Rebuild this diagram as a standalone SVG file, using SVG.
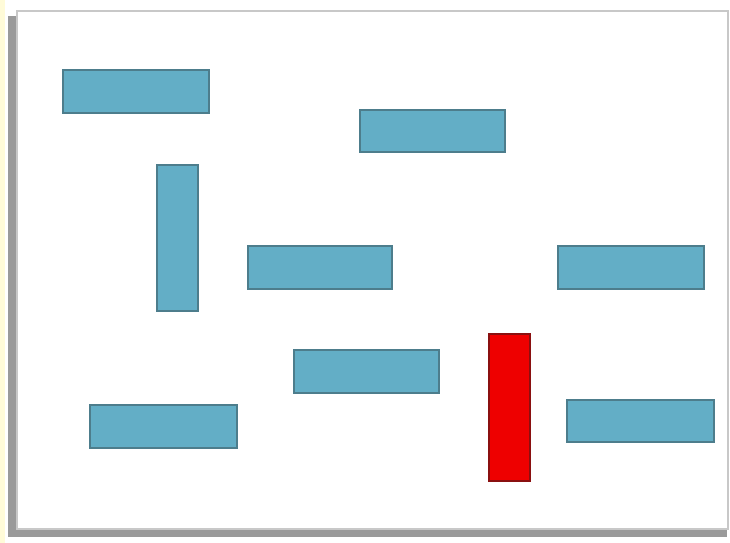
<svg xmlns="http://www.w3.org/2000/svg" width="730" height="543" viewBox="0 0 730 543">
<style>
.blk{fill:#63aec6;stroke:#4d7d8c;stroke-width:2}
.red{fill:#ee0000;stroke:#8a1010;stroke-width:2}
</style>
<rect x="0" y="0" width="730" height="543" fill="#ffffff"/>
<rect x="0" y="0" width="5" height="543" fill="#fffbd8"/>
<rect id="shadow" x="8" y="16" width="719" height="521" fill="#9a9a9a"/>
<rect id="panel" x="17" y="11" width="711" height="518" fill="#ffffff" stroke="#c8c8c8" stroke-width="2"/>
<g id="n1"><rect class="blk" x="63" y="70" width="146" height="43"/></g>
<g id="n2"><rect class="blk" x="360" y="110" width="145" height="42"/></g>
<g id="n3"><rect class="blk" x="157" y="165" width="41" height="146"/></g>
<g id="n4"><rect class="blk" x="248" y="246" width="144" height="43"/></g>
<g id="n5"><rect class="blk" x="558" y="246" width="146" height="43"/></g>
<g id="n6"><rect class="blk" x="294" y="350" width="145" height="43"/></g>
<g id="n7"><rect class="red" x="489" y="334" width="41" height="147"/></g>
<g id="n8"><rect class="blk" x="90" y="405" width="147" height="43"/></g>
<g id="n9"><rect class="blk" x="567" y="400" width="147" height="42"/></g>
<g id="connectors"></g>
</svg>
